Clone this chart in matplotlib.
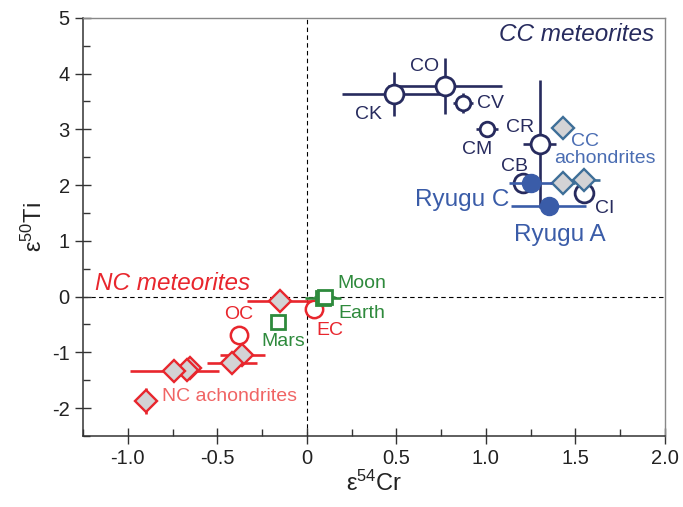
import matplotlib
matplotlib.use("Agg")
import matplotlib.pyplot as plt
import numpy as np

plt.rcParams['font.family'] = ['Liberation Sans', 'DejaVu Sans']
plt.rcParams['mathtext.default'] = 'regular'

# ---- data ----
# CC chondrites (open navy circles)
cc_names = ["CK", "CO", "CV", "CM", "CR", "CB", "CI"]
cc_x = [0.485, 0.772, 0.874, 1.007, 1.30, 1.21, 1.55]
cc_y = [3.63, 3.78, 3.47, 3.00, 2.73, 2.03, 1.86]
cc_xerr = [0.29, 0.32, 0.055, 0.06, 0.09, 0.0, 0.055]
cc_yerr = [0.39, 0.50, 0.18, 0.0, 1.15, 0.0, 0.0]

# Ryugu (filled blue circles)
ry_names = ["Ryugu C", "Ryugu A"]
ry_x = [1.25, 1.35]
ry_y = [2.03, 1.62]
ry_xerr = [0.12, 0.21]

# CC achondrites (grey diamonds)
cca_x = [1.43, 1.43, 1.55]
cca_y = [3.03, 2.03, 2.09]
cca_xerr = [0.0, 0.07, 0.09]

# NC chondrites (open red circles)
nc_names = ["OC", "EC"]
nc_x = [-0.38, 0.04]
nc_y = [-0.68, -0.23]

# NC achondrites (grey diamonds, red edge)
nca_x = [-0.15, -0.36, -0.42, -0.65, -0.67, -0.74, -0.90]
nca_y = [-0.085, -1.04, -1.19, -1.28, -1.31, -1.34, -1.87]
nca_xerr = [0.185, 0.125, 0.14, 0.05, 0.05, 0.25, 0.0]
nca_yerr = [0.0, 0.0, 0.0, 0.0, 0.0, 0.0, 0.24]

# Planetary bodies (open green squares)
pl_names = ["Earth", "Moon", "Mars"]
pl_x = [0.09, 0.10, -0.16]
pl_y = [-0.03, 0.0, -0.46]
pl_xerr = [0.10, 0.06, 0.0]

xticks = [-1.0, -0.5, 0.0, 0.5, 1.0, 1.5, 2.0]
xticklabels = ["-1.0", "-0.5", "0", "0.5", "1.0", "1.5", "2.0"]
yticks = [-2, -1, 0, 1, 2, 3, 4, 5]
yticklabels = ["-2", "-1", "0", "1", "2", "3", "4", "5"]

# ---- colours ----
NAVY = "#272b5e"
RYU = "#3a5ca8"
CCA_EDGE = "#3e6f98"
CCA_TXT = "#4a6db3"
RED = "#e8262d"
RED_LT = "#f06464"
GREEN = "#2e8a3c"
GREYF = "#d3d3d5"

fig = plt.figure(figsize=(6.83, 5.07), dpi=100)
ax = fig.add_axes([0.1215, 0.140, 0.852, 0.825])
ax.set_xlim(-1.25, 2.0)
ax.set_ylim(-2.5, 5.0)

ax.axhline(0, color="black", ls=(0, (4, 3)), lw=0.8, zorder=1)
ax.axvline(0, color="black", ls=(0, (4, 3)), lw=0.8, zorder=1)

ebkw = dict(ls="none", capsize=0, elinewidth=1.9)

# NC achondrites
ax.errorbar(nca_x, nca_y, xerr=nca_xerr, yerr=nca_yerr, fmt="D", ms=11.5,
            mfc=GREYF, mec=RED, mew=1.7, ecolor=RED, zorder=3, **ebkw)
# NC chondrites
ax.errorbar(nc_x, nc_y, fmt="o", ms=12.5, mfc="white", mec=RED, mew=1.8,
            zorder=3, **ebkw)
# planets
ax.errorbar(pl_x, pl_y, xerr=pl_xerr, fmt="s", ms=10.5, mfc="white", mec=GREEN,
            mew=2.0, ecolor=GREEN, zorder=4, **ebkw)

# CC chondrites
for i in range(len(cc_x)):
    ms = 10.5 if cc_names[i] in ("CV", "CM") else 13.5
    ax.errorbar(cc_x[i], cc_y[i], xerr=cc_xerr[i], yerr=cc_yerr[i], fmt="o", ms=ms,
                mfc="white", mec=NAVY, mew=2.0, ecolor=NAVY, zorder=3, **ebkw)
# CC achondrites
ax.errorbar(cca_x, cca_y, xerr=cca_xerr, fmt="D", ms=11.5, mfc=GREYF, mec=CCA_EDGE,
            mew=1.7, ecolor=CCA_EDGE, zorder=4, **ebkw)
# Ryugu
ax.errorbar(ry_x, ry_y, xerr=ry_xerr, fmt="o", ms=13, mfc=RYU, mec=RYU, mew=1,
            ecolor=RYU, zorder=5, **ebkw)

# ---- labels ----
fs = 14
ax.text(1.94, 4.59, "CC meteorites", color=NAVY, fontsize=17.5, style="italic",
        ha="right", va="baseline")
ax.text(-1.183, 0.126, "NC meteorites", color=RED, fontsize=17.5, style="italic",
        ha="left", va="baseline")
cc_lab = {"CK": (0.344, 3.27), "CO": (0.656, 4.13), "CV": (1.025, 3.46),
          "CR": (1.19, 3.03), "CM": (0.95, 2.63), "CB": (1.16, 2.34)}
for n, (tx, ty) in cc_lab.items():
    ax.text(tx, ty, n, color=NAVY, fontsize=fs, ha="center", va="center")
ax.text(1.61, 1.50, "CI", color=NAVY, fontsize=fs, ha="left", va="baseline")
ax.text(1.476, 2.70, "CC", color=CCA_TXT, fontsize=fs, ha="left", va="baseline")
ax.text(1.383, 2.40, "achondrites", color=CCA_TXT, fontsize=fs, ha="left", va="baseline")
ax.text(1.133, 1.63, "Ryugu C", color=RYU, fontsize=17.5, ha="right", va="baseline")
ax.text(1.16, 1.00, "Ryugu A", color=RYU, fontsize=17.5, ha="left", va="baseline")
ax.text(-0.811, -1.88, "NC achondrites", color=RED_LT, fontsize=fs, ha="left", va="baseline")
ax.text(-0.461, -0.41, "OC", color=RED, fontsize=fs, ha="left", va="baseline")
ax.text(0.056, -0.68, "EC", color=RED, fontsize=fs, ha="left", va="baseline")
ax.text(-0.252, -0.89, "Mars", color=GREEN, fontsize=fs, ha="left", va="baseline")
ax.text(0.17, 0.156, "Moon", color=GREEN, fontsize=fs, ha="left", va="baseline")
ax.text(0.178, -0.38, "Earth", color=GREEN, fontsize=fs, ha="left", va="baseline")

# ---- axes styling ----
ax.set_xticks(xticks)
ax.set_xticklabels(xticklabels)
ax.set_yticks(yticks)
ax.set_yticklabels(yticklabels)
ax.set_xticks(np.arange(-1.25, 2.01, 0.25), minor=True)
ax.set_yticks(np.arange(-2.5, 5.01, 0.5), minor=True)
ax.tick_params(which="major", direction="inout", length=11, width=1, labelsize=14.5,
               colors="#333333", labelcolor="#222222", pad=4)
ax.tick_params(which="minor", direction="in", length=5, width=1, colors="#333333")
for side in ["left", "bottom"]:
    ax.spines[side].set_color("#333333")
    ax.spines[side].set_linewidth(1.1)
for side in ["top", "right"]:
    ax.spines[side].set_color("#888888")
    ax.spines[side].set_linewidth(1.0)

ax.set_xlabel("ε$^{54}$Cr", fontsize=17, color="#222222", labelpad=2)
ax.set_ylabel("ε$^{50}$Ti", fontsize=17, color="#222222", labelpad=4)

fig.savefig("out.png", dpi=100)
